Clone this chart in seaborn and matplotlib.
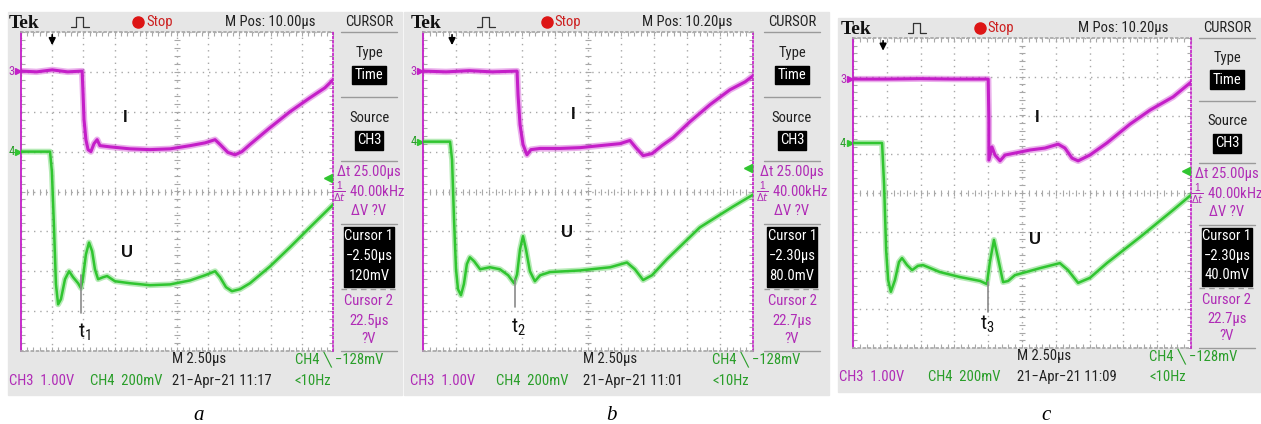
import numpy as np
import pandas as pd
import matplotlib
matplotlib.use("Agg")
import matplotlib.pyplot as plt
import seaborn as sns
from matplotlib import font_manager
from matplotlib.patches import Rectangle
from matplotlib.ticker import MultipleLocator

# three Tek screens, traces
# x = horizontal division (0..10), y = vertical division (-4..4, centre 0)

# --- screen a ---
a_i_t = [0, 0.5, 1.0, 1.5, 1.96, 1.99, 2.02, 2.08, 2.15, 2.24, 2.34, 2.44, 2.53, 2.85, 3.49, 4.13,
         4.78, 5.42, 5.9, 6.22, 6.38, 6.63, 6.86, 7.08, 7.34, 7.98, 8.62, 9.26, 9.74, 10.0]
a_i_v = [3.02, 3.0, 3.05, 3.0, 3.02, 2.42, 1.8, 1.3, 1.05, 1.0, 1.2, 1.3, 1.15, 1.12, 1.07, 1.05,
         1.07, 1.15, 1.22, 1.3, 1.18, 0.98, 0.92, 1.0, 1.18, 1.6, 2.0, 2.35, 2.6, 2.8]
a_u_t = [0, 0.93, 0.99, 1.06, 1.12, 1.19, 1.28, 1.41, 1.54, 1.67, 1.83, 1.92, 1.98, 2.08, 2.18, 2.28,
         2.37, 2.47, 2.63, 2.76, 3.01, 3.49, 4.13, 4.78, 5.42, 5.9, 6.22, 6.38, 6.57, 6.76, 7.02,
         7.34, 7.98, 8.62, 9.26, 10.0]
a_u_v = [1.0, 1.0, 0.5, -0.95, -2.33, -2.83, -2.7, -2.2, -2.0, -2.15, -2.3, -2.42, -2.2, -1.58, -1.28,
         -1.5, -1.95, -2.2, -2.15, -2.12, -2.25, -2.3, -2.35, -2.33, -2.23, -2.1, -2.0, -2.15, -2.4,
         -2.5, -2.45, -2.3, -1.88, -1.4, -0.9, -0.33]

# --- screen b ---
b_i_t = [0, 0.7, 1.4, 2.1, 2.85, 2.88, 2.94, 3.03, 3.15, 3.27, 3.55, 4.15, 4.76, 5.36, 5.97, 6.27,
         6.45, 6.67, 6.94, 7.24, 7.58, 8.09, 8.7, 9.3, 9.76, 10.0]
b_i_v = [3.02, 3.0, 3.03, 3.0, 3.02, 2.42, 1.68, 1.18, 0.92, 1.05, 1.08, 1.08, 1.1, 1.15, 1.2, 1.28,
         1.1, 0.9, 0.95, 1.15, 1.35, 1.75, 2.18, 2.55, 2.75, 2.9]
b_u_t = [0, 0.82, 0.88, 0.94, 1.0, 1.06, 1.15, 1.24, 1.33, 1.42, 1.55, 1.73, 2.03, 2.33, 2.58, 2.76,
         2.85, 2.94, 3.03, 3.12, 3.24, 3.39, 3.55, 3.85, 4.76, 5.67, 6.18, 6.42, 6.67, 6.94, 7.39,
         8.39, 9.39, 10.0]
b_u_v = [1.25, 1.25, 0.8, -0.7, -1.95, -2.45, -2.6, -2.32, -1.82, -1.65, -1.75, -1.95, -1.9, -1.95,
         -2.1, -2.3, -2.08, -1.45, -1.12, -1.45, -2.0, -2.25, -2.1, -2.02, -1.98, -1.9, -1.78, -1.95,
         -2.22, -2.1, -1.7, -0.9, -0.38, -0.08]

# --- screen c ---
c_i_t = [0, 1.0, 2.0, 3.0, 4.0, 4.02, 4.02, 4.11, 4.2, 4.35, 4.5, 4.79, 5.24, 5.68, 6.07, 6.27,
         6.48, 6.66, 7.01, 7.51, 8.2, 8.79, 9.47, 10.0]
c_i_v = [2.94, 2.94, 2.95, 2.94, 2.94, 1.88, 0.85, 1.19, 0.98, 0.83, 0.98, 1.03, 1.11, 1.16, 1.26,
         1.16, 0.9, 0.83, 0.98, 1.29, 1.78, 2.14, 2.48, 2.86]
c_u_t = [0, 0.86, 0.92, 0.98, 1.04, 1.12, 1.24, 1.36, 1.45, 1.6, 1.75, 1.92, 2.07, 2.57, 3.17, 3.76,
         3.96, 4.05, 4.17, 4.29, 4.44, 4.59, 4.79, 5.53, 6.12, 6.36, 6.66, 7.01, 7.51, 8.49, 9.47, 10.0]
c_u_v = [1.29, 1.29, 0.21, -1.47, -2.25, -2.55, -2.25, -1.78, -1.68, -1.86, -1.99, -1.88, -1.86,
         -2.04, -2.17, -2.27, -2.35, -1.78, -1.21, -1.68, -2.3, -2.27, -2.12, -1.94, -1.81, -1.99,
         -2.32, -2.19, -1.81, -1.14, -0.44, -0.05]

labels = ["a", "b", "c"]
m_pos = ["M Pos: 10.00\u00b5s", "M Pos: 10.20\u00b5s", "M Pos: 10.20\u00b5s"]
cursor1 = [["Cursor 1", "\u22122.50\u00b5s", "120mV"],
           ["Cursor 1", "\u22122.30\u00b5s", "80.0mV"],
           ["Cursor 1", "\u22122.30\u00b5s", "40.0mV"]]
cursor2 = ["22.5\u00b5s", "22.7\u00b5s", "22.7\u00b5s"]
dates = ["21\u2212Apr\u221221 11:17", "21\u2212Apr\u221221 11:01", "21\u2212Apr\u221221 11:09"]
t_sub = ["1", "2", "3"]
ch3_level = [3.02, 3.02, 2.94]
ch4_level = [1.0, 1.25, 1.29]
trig_level = [0.33, 0.58, 0.57]
trig_pos = [1.0, 0.88, 0.89]
cursor_t = [1.92, 2.79, 3.99]
cursor_lo = [-3.05, -2.9, -3.07]
cursor_hi = [-2.1, -2.2, -2.3]
i_label_xy = [(3.33, 1.85), (4.55, 1.93), (5.44, 1.96)]
u_label_xy = [(3.4, -1.53), (4.36, -1.03), (5.38, -1.21)]
t_label_xy = [(2.05, -3.52), (2.9, -3.4), (3.96, -3.4)]

traces = [(a_i_t, a_i_v, a_u_t, a_u_v), (b_i_t, b_i_v, b_u_t, b_u_v), (c_i_t, c_i_v, c_u_t, c_u_v)]

# screen geometry in pixels
plot_box = [(21, 32, 333, 351), (423, 32, 753, 351), (853, 38, 1191, 348)]
gray_box = [(8, 12, 402, 395), (404, 12, 829, 395), (838, 18, 1261, 392)]
side_cx = [369, 792, 1227]

MAG = "#c41ec8"
MAG_TXT = "#b02cb6"
GREEN = "#30c530"
GREEN_TXT = "#2a9e2a"
PANEL = "#e6e6e6"
GRID = "#a8a8a8"

W, H = 1261, 424
sns.set_theme(style="white")

# scope screen font is narrow; use a condensed face if one is installed
names = {f.name for f in font_manager.fontManager.ttflist}
narrow = None
for cand in ['Liberation Sans Narrow', 'Roboto Condensed', 'Open Sans Condensed', 'DejaVu Sans Condensed']:
    if cand in names:
        narrow = cand
        break
if narrow:
    plt.rcParams['font.family'] = [narrow, 'DejaVu Sans']
    FS = 10.5
else:
    plt.rcParams['font.family'] = ['Liberation Sans', 'DejaVu Sans']
    FS = 8.6
plt.rcParams['mathtext.fontset'] = 'custom'
plt.rcParams['mathtext.rm'] = 'Liberation Sans'

fig = plt.figure(figsize=(W / 100, H / 100), dpi=100)
bg = fig.add_axes([0, 0, 1, 1], zorder=0)
bg.set_xlim(0, W)
bg.set_ylim(H, 0)
bg.axis("off")

for k in range(3):
    px0, py0, px1, py1 = plot_box[k]
    gx0, gy0, gx1, gy1 = gray_box[k]
    cx = side_cx[k]
    rx = lambda r: px0 + r * (px1 - px0)
    ry = lambda r: py0 + r * (py1 - py0)

    bg.add_patch(Rectangle((gx0, gy0), gx1 - gx0, gy1 - gy0, color=PANEL, zorder=0))

    # header
    yy = ry(-0.031)
    bg.text(px0 - 12, yy + 1, "Tek", family=['Liberation Serif', 'DejaVu Serif'],
            weight='bold', fontsize=14, va='center', ha='left', color='#111111')
    p = rx(0.19)
    bg.plot([p - 9, p - 4, p - 4, p + 3, p + 3, p + 9], [yy + 5, yy + 5, yy - 5, yy - 5, yy + 5, yy + 5],
            color='#333333', lw=0.9)
    bg.plot([rx(0.375)], [yy], 'o', color='#dd1515', ms=8)
    bg.text(rx(0.375) + 8, yy, "Stop", color='#cc2020', fontsize=FS, va='center', ha='left')
    bg.text(rx(0.80), yy, m_pos[k], color='#222222', fontsize=FS, va='center', ha='center')
    bg.text(cx, yy, "CURSOR", color='#222222', fontsize=FS, va='center', ha='center')

    # side menu
    for r in [0.0, 0.203, 0.403, 0.603, 1.0]:
        bg.plot([cx - 28, cx + 28], [ry(r), ry(r)], color='#9a9a9a', lw=1)
    bg.plot([cx - 28, cx + 28], [ry(0.806), ry(0.806)], color='#9a9a9a', lw=1, ls=(0, (4, 3)))
    bg.text(cx, ry(0.066), "Type", color='#222222', fontsize=FS, va='center', ha='center')
    bg.text(cx, ry(0.134), "Time", color='white', fontsize=FS, va='center', ha='center',
            bbox=dict(boxstyle='square,pad=0.15', fc='black', ec='black'))
    bg.text(cx, ry(0.269), "Source", color='#222222', fontsize=FS, va='center', ha='center')
    bg.text(cx, ry(0.34), "CH3", color='white', fontsize=FS, va='center', ha='center',
            bbox=dict(boxstyle='square,pad=0.15', fc='black', ec='black'))
    bg.text(cx, ry(0.44), "\u0394t 25.00\u00b5s", color=MAG_TXT, fontsize=FS, va='center', ha='center')
    bg.text(cx, ry(0.503), r"$\frac{1}{\Delta t}$ 40.00kHz", color=MAG_TXT, fontsize=FS,
            va='center', ha='center')
    bg.text(cx, ry(0.5625), "\u0394V ?V", color=MAG_TXT, fontsize=FS, va='center', ha='center')
    bg.add_patch(Rectangle((cx - 25, ry(0.6125)), 50, ry(0.8) - ry(0.6125), color='black', zorder=1))
    for r, s in zip([0.64, 0.703, 0.766], cursor1[k]):
        bg.text(cx, ry(r), s, color='white', fontsize=FS, va='center', ha='center', zorder=2)
    bg.text(cx, ry(0.844), "Cursor 2", color=MAG_TXT, fontsize=FS, va='center', ha='center')
    bg.text(cx, ry(0.906), cursor2[k], color=MAG_TXT, fontsize=FS, va='center', ha='center')
    bg.text(cx, ry(0.9625), "?V", color=MAG_TXT, fontsize=FS, va='center', ha='center')

    # bottom status lines
    bg.text(rx(0.485), ry(1.025), "M 2.50\u00b5s", color='#222222', fontsize=FS, va='center')
    bg.text(rx(0.877), ry(1.025), "CH4 \u2572 \u2212128mV", color=GREEN_TXT, fontsize=FS, va='center')
    bg.text(rx(-0.04), ry(1.094), "CH3  1.00V", color=MAG_TXT, fontsize=FS, va='center')
    bg.text(rx(0.222), ry(1.094), "CH4  200mV", color=GREEN_TXT, fontsize=FS, va='center')
    bg.text(rx(0.485), ry(1.094), dates[k], color='#222222', fontsize=FS, va='center')
    bg.text(rx(0.877), ry(1.094), "<10Hz", color=GREEN_TXT, fontsize=FS, va='center')

    bg.text(rx(0.57), 415, labels[k], family=['Liberation Serif', 'DejaVu Serif'], style='italic',
            fontsize=15, va='center', ha='center', color='black')

    # screen
    ax = fig.add_axes([px0 / W, 1 - py1 / H, (px1 - px0) / W, (py1 - py0) / H], zorder=2)
    ax.set_facecolor('white')
    ax.set_xlim(0, 10)
    ax.set_ylim(-4, 4)
    ax.xaxis.set_major_locator(MultipleLocator(1))
    ax.yaxis.set_major_locator(MultipleLocator(1))
    ax.xaxis.set_minor_locator(MultipleLocator(0.2))
    ax.yaxis.set_minor_locator(MultipleLocator(0.2))
    ax.grid(True, which='major', color=GRID, ls=(0, (1, 3.5)), lw=1)
    ax.tick_params(which='both', direction='in', length=3, color=GRID, width=0.8,
                   top=True, right=True, bottom=True, left=True,
                   labelbottom=False, labelleft=False)
    ticks = np.arange(0.2, 10, 0.2)
    ax.scatter(ticks, np.zeros_like(ticks), marker='|', s=14, color=GRID, lw=0.8, zorder=1)
    vt = np.arange(-3.8, 4, 0.2)
    ax.scatter(np.full_like(vt, 5.0), vt, marker='_', s=14, color=GRID, lw=0.8, zorder=1)
    for side in ['top', 'bottom']:
        ax.spines[side].set_color(GRID)
        ax.spines[side].set_linestyle((0, (1, 2)))
    ax.spines['left'].set_color(MAG)
    ax.spines['left'].set_linewidth(1.3)
    ax.spines['right'].set_color(MAG)
    ax.spines['right'].set_linestyle((0, (1, 1.5)))
    ax.spines['right'].set_linewidth(1.2)

    it, iv, ut, uv = traces[k]
    di = pd.DataFrame({'t': it, 'v': iv})
    du = pd.DataFrame({'t': ut, 'v': uv})
    for d, col, lw in [(di, MAG, 2.2), (du, GREEN, 1.8)]:
        sns.lineplot(data=d, x='t', y='v', ax=ax, color=col, lw=lw + 2.4, alpha=0.35,
                     sort=False, estimator=None, zorder=3)
        sns.lineplot(data=d, x='t', y='v', ax=ax, color=col, lw=lw, sort=False, estimator=None, zorder=4)
    ax.set_xlabel("")
    ax.set_ylabel("")

    ax.plot([cursor_t[k], cursor_t[k]], [cursor_lo[k], cursor_hi[k]], color='#8a8a8a', lw=1.2, zorder=5)

    # channel markers
    ax.plot([-0.1], [ch3_level[k]], marker='>', ms=4, color=MAG, clip_on=False)
    ax.text(-0.2, ch3_level[k], "3", color=MAG_TXT, fontsize=9, ha='right', va='center')
    ax.plot([-0.1], [ch4_level[k]], marker='>', ms=4, color=GREEN, clip_on=False)
    ax.text(-0.2, ch4_level[k], "4", color=GREEN_TXT, fontsize=9, ha='right', va='center')
    ax.plot([9.85], [trig_level[k]], marker='<', ms=6, color=GREEN, zorder=6)
    ax.annotate("", xy=(trig_pos[k], 3.6), xytext=(trig_pos[k], 4.0),
                arrowprops=dict(arrowstyle='-|>', color='black', lw=1.2, mutation_scale=10))

    ax.text(*i_label_xy[k], "I", family=['Liberation Sans', 'DejaVu Sans'], weight='bold',
            fontsize=12, ha='center', va='center', color='#111111')
    ax.text(*u_label_xy[k], "U", family=['Liberation Sans', 'DejaVu Sans'], weight='bold',
            fontsize=12, ha='center', va='center', color='#111111')
    ax.text(*t_label_xy[k], r"$\mathregular{t_{%s}}$" % t_sub[k], fontsize=15,
            ha='center', va='center', color='#111111')

fig.savefig("out.png", dpi=100, facecolor='white')
